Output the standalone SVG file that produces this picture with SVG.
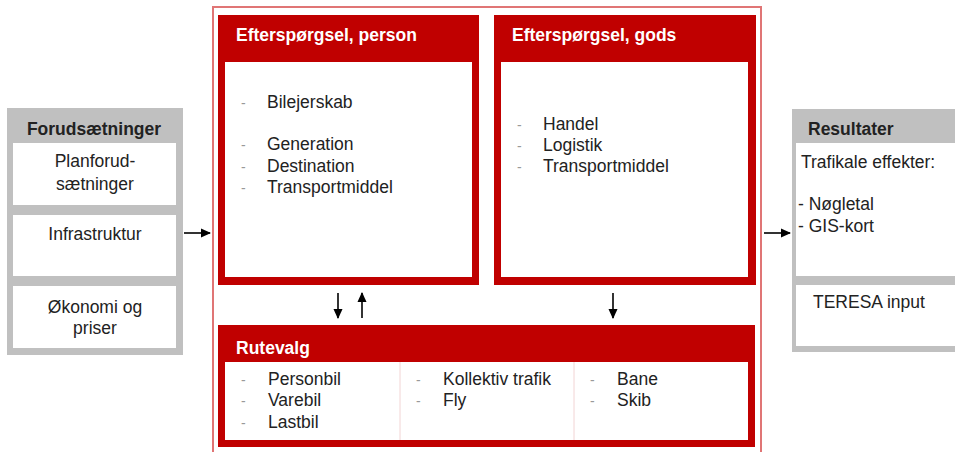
<svg xmlns="http://www.w3.org/2000/svg" width="955" height="452" viewBox="0 0 955 452">
<defs>
<marker id="ah" viewBox="0 0 10 10" refX="9" refY="5" markerWidth="6.5" markerHeight="6.5" orient="auto"><path d="M0,0.5 L10,5 L0,9.5 z" fill="#000"/></marker>
<style>
text{font-family:"Liberation Sans",Arial,sans-serif;fill:#222;font-size:17.5px}
.hw{font-weight:bold;fill:#fff;font-size:17.5px}
.hb{font-weight:bold;fill:#222;font-size:17.5px}
.bul{fill:#999;font-size:14px}
.red{fill:#c00000}
.wh{fill:#fff}
.gray{fill:#c0c0c0}
.cn{stroke:#000;stroke-width:1.6;fill:none;marker-end:url(#ah)}
</style>
</defs>
<rect width="955" height="452" fill="#fff"/>
<rect x="213" y="7" width="548" height="450" fill="none" stroke="#e07575" stroke-width="2"/>

<g id="forud">
<rect class="gray" x="7" y="108" width="176" height="247"/>
<text class="hb" x="94" y="135" text-anchor="middle">Forudsætninger</text>
<rect class="wh" x="13" y="143" width="163" height="62"/>
<rect class="wh" x="13" y="215" width="163" height="61"/>
<rect class="wh" x="13" y="286" width="163" height="62"/>
<text x="95" y="167" text-anchor="middle">Planforud-</text>
<text x="95" y="190" text-anchor="middle">sætninger</text>
<text x="95" y="240" text-anchor="middle">Infrastruktur</text>
<text x="95" y="313" text-anchor="middle">Økonomi og</text>
<text x="95" y="334" text-anchor="middle">priser</text>
</g>

<g id="person">
<rect class="red" x="218" y="15" width="261" height="270"/>
<rect class="wh" x="225" y="62" width="247" height="215"/>
<text class="hw" x="236" y="41">Efterspørgsel, person</text>
<text class="bul" x="241" y="108">-</text><text x="267" y="108">Bilejerskab</text>
<text class="bul" x="241" y="150">-</text><text x="267" y="150">Generation</text>
<text class="bul" x="241" y="172">-</text><text x="267" y="172">Destination</text>
<text class="bul" x="241" y="193">-</text><text x="267" y="193">Transportmiddel</text>
</g>

<g id="gods">
<rect class="red" x="494" y="15" width="262" height="270"/>
<rect class="wh" x="501" y="62" width="247" height="215"/>
<text class="hw" x="512" y="41">Efterspørgsel, gods</text>
<text class="bul" x="517" y="130">-</text><text x="543" y="130">Handel</text>
<text class="bul" x="517" y="151">-</text><text x="543" y="151">Logistik</text>
<text class="bul" x="517" y="172">-</text><text x="543" y="172">Transportmiddel</text>
</g>

<g id="rutevalg">
<rect class="red" x="218" y="325" width="537" height="122"/>
<rect class="wh" x="225" y="362" width="523" height="78"/>
<line x1="400" y1="362" x2="400" y2="440" stroke="#f2d4d4" stroke-width="1"/>
<line x1="574" y1="362" x2="574" y2="440" stroke="#f2d4d4" stroke-width="1"/>
<text class="hw" x="236" y="354">Rutevalg</text>
<text class="bul" x="241" y="385">-</text><text x="268" y="385">Personbil</text>
<text class="bul" x="241" y="406">-</text><text x="268" y="406">Varebil</text>
<text class="bul" x="241" y="428">-</text><text x="268" y="428">Lastbil</text>
<text class="bul" x="416" y="385">-</text><text x="443" y="385">Kollektiv trafik</text>
<text class="bul" x="416" y="406">-</text><text x="443" y="406">Fly</text>
<text class="bul" x="590" y="385">-</text><text x="617" y="385">Bane</text>
<text class="bul" x="590" y="406">-</text><text x="617" y="406">Skib</text>
</g>

<g id="resultater">
<rect class="gray" x="792" y="109" width="170" height="243"/>
<text class="hb" x="808" y="135">Resultater</text>
<rect class="wh" x="796" y="143" width="165" height="133"/>
<rect class="wh" x="796" y="285" width="165" height="61"/>
<text x="801" y="168">Trafikale effekter:</text>
<text x="798" y="210">- Nøgletal</text>
<text x="798" y="232">- GIS-kort</text>
<text x="813" y="308">TERESA input</text>
</g>

<g id="connectors">
<line class="cn" x1="184" y1="233" x2="210" y2="233"/>
<line class="cn" x1="764" y1="233" x2="790" y2="233"/>
<line class="cn" x1="338" y1="293" x2="338" y2="318"/>
<line class="cn" x1="362" y1="318" x2="362" y2="293"/>
<line class="cn" x1="613" y1="293" x2="613" y2="318"/>
</g>
</svg>
